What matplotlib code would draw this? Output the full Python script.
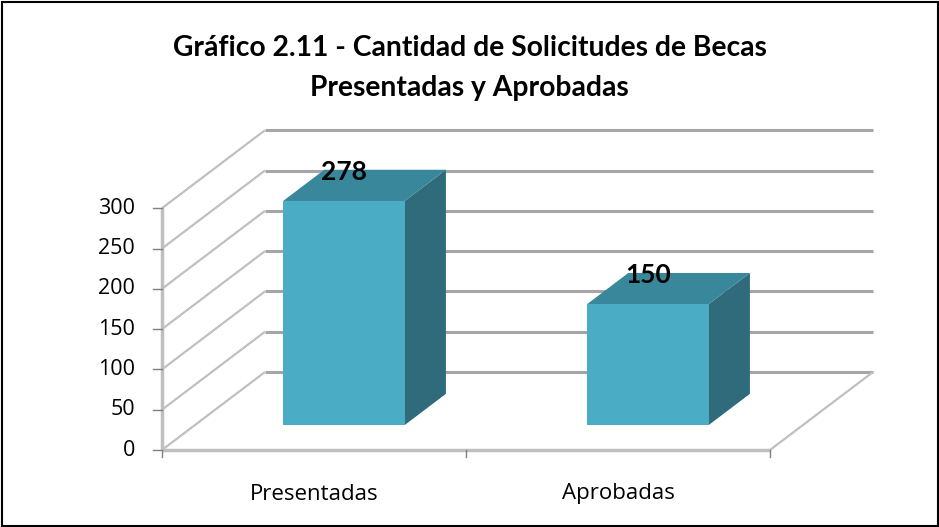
import matplotlib.pyplot as plt
from matplotlib.patches import Polygon, Rectangle

categories = ["Presentadas", "Aprobadas"]
values = [278, 150]
y_ticks = [0, 50, 100, 150, 200, 250, 300]
title_lines = ["Gráfico 2.11 - Cantidad de Solicitudes de Becas", "Presentadas y Aprobadas"]

# simple oblique projection, pixel space of the figure
X0, Y0 = 162, 450
CAT_W = 304
V_SCALE = 0.806
DEPTH_X, DEPTH_Y = 103, 78


def proj(x, d, v):
    return X0 + x * CAT_W + d * DEPTH_X, Y0 - v * V_SCALE - d * DEPTH_Y


def line(ax, p, q, **kw):
    ax.plot([p[0], q[0]], [p[1], q[1]], solid_capstyle="butt", **kw)


plt.rcParams["font.family"] = ["Open Sans", "DejaVu Sans"]

fig = plt.figure(figsize=(9.39, 5.27), dpi=100)
ax = fig.add_axes([0, 0, 1, 1])
ax.set_xlim(0, 939)
ax.set_ylim(527, 0)
ax.axis("off")

n = len(categories)
vmax = y_ticks[-1]

# back wall gridlines and side wall lines
for v in y_ticks:
    line(ax, proj(0, 1, v), proj(n, 1, v), color="#a6a6a6", lw=2.2, zorder=1)
    line(ax, proj(0, 0, v), proj(0, 1, v), color="#c0c0c0", lw=1.6, zorder=1)
line(ax, proj(n, 0, 0), proj(n, 1, 0), color="#c0c0c0", lw=1.6, zorder=1)

# front axes
line(ax, proj(0, 0, 0), proj(n, 0, 0), color="#bfbfbf", lw=2.5, zorder=2)
line(ax, proj(0, 0, 0), proj(0, 0, vmax), color="#bfbfbf", lw=2.5, zorder=2)
for v in y_ticks:
    x, y = proj(0, 0, v)
    ax.plot([x - 9, x], [y, y], color="#808080", lw=1, zorder=2)
    ax.text(x - 27, y, str(v), ha="right", va="center", fontsize=15.5, color="black")
for i in range(n + 1):
    x, y = proj(i, 0, 0)
    ax.plot([x, x], [y, y + 7], color="#808080", lw=1, zorder=2)

# bars
front_c, top_c, side_c = "#4bacc6", "#38879b", "#306b7b"
d0, d1 = 0.32, 0.72
for i, (cat, v) in enumerate(zip(categories, values)):
    x0, x1 = i + 0.29, i + 0.69
    side = [proj(x1, d0, 0), proj(x1, d1, 0), proj(x1, d1, v), proj(x1, d0, v)]
    top = [proj(x0, d0, v), proj(x1, d0, v), proj(x1, d1, v), proj(x0, d1, v)]
    front = [proj(x0, d0, 0), proj(x1, d0, 0), proj(x1, d0, v), proj(x0, d0, v)]
    ax.add_patch(Polygon(side, closed=True, facecolor=side_c, edgecolor="none", zorder=3))
    ax.add_patch(Polygon(top, closed=True, facecolor=top_c, edgecolor="none", zorder=3))
    ax.add_patch(Polygon(front, closed=True, facecolor=front_c, edgecolor="none", zorder=4))
    cx = proj((x0 + x1) / 2, d0, v)[0]
    cy = proj(0, d1, v)[1] + 2
    ax.text(cx, cy, str(v), ha="center", va="center", fontsize=19, family="Lato",
            fontweight="bold", color="black", zorder=5)
    lx, _ = proj(i + 0.5, 0, 0)
    ax.text(lx, 494, cat, ha="center", va="center", fontsize=16, color="black")

for k, t in enumerate(title_lines):
    ax.text(469.5, 48 + 40 * k, t, ha="center", va="center", fontsize=20.3,
            family="Lato", fontweight="bold", color="black")

ax.add_patch(Rectangle((1.5, 1.5), 936, 524, fill=False, edgecolor="black", lw=1.5, zorder=6))

fig.savefig("out.png", dpi=100)
